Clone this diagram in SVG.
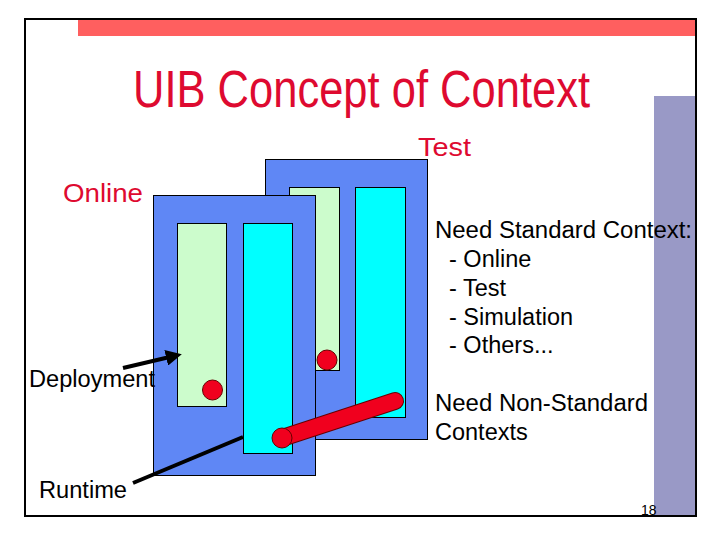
<svg xmlns="http://www.w3.org/2000/svg" width="720" height="540" viewBox="0 0 720 540">
<style>
.red{fill:#de0a30;font-family:"Liberation Sans",Arial,sans-serif}
.blk{fill:#000;font-family:"Liberation Sans",Arial,sans-serif;font-size:23.5px}
.panel{fill:#5f87f5;stroke:#000;stroke-width:1}
.green{fill:#ccfccc;stroke:#000;stroke-width:1}
.cyan{fill:#00ffff;stroke:#000;stroke-width:1}
.dot{fill:#f0001e;stroke:#600;stroke-width:1}
</style>
<defs>
<marker id="ah" markerWidth="4" markerHeight="4" refX="2" refY="2" orient="auto" markerUnits="strokeWidth">
<path d="M0,0 L4,2 L0,4 z" fill="#000"/>
</marker>
</defs>
<rect x="0" y="0" width="720" height="540" fill="#fff"/>
<g id="frame">
<rect x="78" y="19" width="617" height="17" fill="#ff5f5f"/>
<rect x="654" y="96" width="41" height="420" fill="#9999c6"/>
<rect x="25" y="19" width="671" height="497" fill="none" stroke="#000" stroke-width="2"/>
</g>
<g id="title"><text class="red" x="133" y="107" font-size="51" textLength="457" lengthAdjust="spacingAndGlyphs">UIB Concept of Context</text></g>
<g id="back-panel">
<rect class="panel" x="265.5" y="159.5" width="162" height="280"/>
<rect class="green" x="289.5" y="187.5" width="50" height="183"/>
<rect class="cyan" x="355.5" y="187.5" width="50" height="230"/>
<circle class="dot" cx="327" cy="360" r="10"/>
</g>
<g id="front-panel">
<rect class="panel" x="153.5" y="195.5" width="162" height="280"/>
<rect class="green" x="177.5" y="223.5" width="49" height="183"/>
<rect class="cyan" x="243.5" y="223.5" width="49" height="230"/>
<circle class="dot" cx="212.5" cy="390" r="10"/>
</g>
<g id="connectors">
<line x1="282" y1="438" x2="395" y2="401" stroke="#600" stroke-width="18" stroke-linecap="round"/>
<line x1="282" y1="438" x2="395" y2="401" stroke="#f0001e" stroke-width="16" stroke-linecap="round"/>
<circle class="dot" cx="282" cy="438" r="10"/>
<line x1="123" y1="368" x2="174" y2="356" stroke="#000" stroke-width="4" marker-end="url(#ah)"/>
<line x1="133" y1="483" x2="243" y2="437" stroke="#000" stroke-width="4"/>
</g>
<g id="labels">
<text class="red" x="418" y="156" font-size="26.5" textLength="53" lengthAdjust="spacingAndGlyphs">Test</text>
<text class="red" x="63" y="202" font-size="26.5" textLength="80" lengthAdjust="spacingAndGlyphs">Online</text>
<text class="blk" x="29" y="387" textLength="126" lengthAdjust="spacingAndGlyphs">Deployment</text>
<text class="blk" x="39" y="498" textLength="88" lengthAdjust="spacingAndGlyphs">Runtime</text>
<text class="blk" x="435" y="238" textLength="257" lengthAdjust="spacingAndGlyphs">Need Standard Context:</text>
<text class="blk" x="449" y="267">- Online</text>
<text class="blk" x="449" y="296">- Test</text>
<text class="blk" x="449" y="325">- Simulation</text>
<text class="blk" x="449" y="353">- Others...</text>
<text class="blk" x="435" y="411" textLength="213" lengthAdjust="spacingAndGlyphs">Need Non-Standard</text>
<text class="blk" x="435" y="440">Contexts</text>
<text x="641" y="515" font-family="Liberation Sans,Arial,sans-serif" font-size="14" fill="#000">18</text>
</g>
</svg>
